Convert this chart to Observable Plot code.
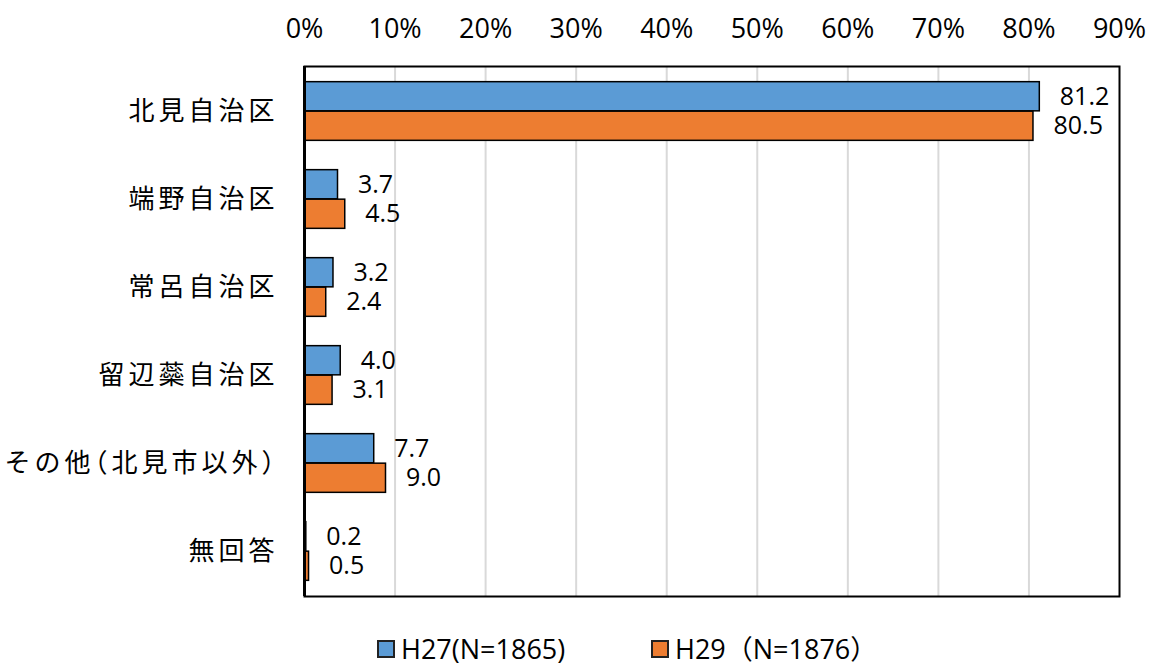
<!DOCTYPE html>
<html>
<head>
<meta charset="utf-8">
<script src="https://cdn.jsdelivr.net/npm/d3@7"></script>
<script src="https://cdn.jsdelivr.net/npm/@observablehq/plot@0.6"></script>
<style>
  body { margin: 0; background: #fff; font-family: 'Open Sans', 'Noto Sans CJK JP', sans-serif; }
  #chart svg [aria-label="y-axis tick label"] text { letter-spacing: 4px; font-feature-settings: "halt"; }
  #legend { position: relative; height: 46px; width: 1149px; }
  .item { position: absolute; top: 14px; display: flex; align-items: center; font-size: 27px; line-height: 30px; color: #000; font-family: 'Open Sans', 'Noto Sans CJK JP', sans-serif; }
  .sw { width: 14px; height: 14px; border: 2px solid #222; margin-right: 6px; }
</style>
</head>
<body>
<div id="chart"></div>
<div id="legend"></div>
<script>
const categories = ["北見自治区", "端野自治区", "常呂自治区", "留辺蘂自治区", "その他（北見市以外）", "無回答"];
const seriesNames = ["H27(N=1865)", "H29（N=1876）"];
const h27 = [81.2, 3.7, 3.2, 4.0, 7.7, 0.2];
const h29 = [80.5, 4.5, 2.4, 3.1, 9.0, 0.5];
const xTicks = [0, 10, 20, 30, 40, 50, 60, 70, 80, 90];
const colors = ["#5B9BD5", "#ED7D31"];

const d27 = categories.map((c, i) => ({category: c, value: h27[i]}));
const d29 = categories.map((c, i) => ({category: c, value: h29[i]}));

const band = (596 - 66) / categories.length;
const barH = 29.5;
const inset = (band - barH) / 2;
const off = barH / 2;

const font = "'Open Sans', 'Noto Sans CJK JP', sans-serif";

const chart = Plot.plot({
  width: 1149,
  height: 620,
  marginLeft: 304,
  marginRight: 30,
  marginTop: 66,
  marginBottom: 24,
  style: {fontFamily: font, fontSize: "26px", color: "#000", background: "#fff"},
  x: {domain: [0, 90]},
  y: {domain: categories, padding: 0},
  marks: [
    Plot.ruleX(xTicks.filter(t => t > 0 && t < 90), {stroke: "#d9d9d9", strokeWidth: 2}),
    Plot.barX(d27, {x: "value", y: "category", fill: colors[0], stroke: "#000", strokeWidth: 1.5, insetTop: inset, insetBottom: inset, dy: -off}),
    Plot.barX(d29, {x: "value", y: "category", fill: colors[1], stroke: "#000", strokeWidth: 1.5, insetTop: inset, insetBottom: inset, dy: off}),
    Plot.text(d27, {x: "value", y: "category", text: d => d.value.toFixed(1), dx: 20, dy: -off, textAnchor: "start", fontSize: 25, fill: "#000"}),
    Plot.text(d29, {x: "value", y: "category", text: d => d.value.toFixed(1), dx: 20, dy: off, textAnchor: "start", fontSize: 25, fill: "#000"}),
    Plot.frame({stroke: "#000", strokeWidth: 2}),
    Plot.ruleX([0], {stroke: "#000", strokeWidth: 3}),
    Plot.axisX({anchor: "top", ticks: xTicks, tickFormat: d => d + "%", tickSize: 0, tickPadding: 29, fontSize: 27, label: null}),
    Plot.axisY({anchor: "left", tickSize: 0, tickPadding: 26, fontSize: 26, label: null, fontFamily: "'Noto Sans CJK JP', sans-serif"})
  ]
});
document.getElementById("chart").appendChild(chart);

const legend = document.getElementById("legend");
const lefts = [377, 651];
seriesNames.forEach((name, i) => {
  const item = document.createElement("div");
  item.className = "item";
  item.style.left = lefts[i] + "px";
  const sw = document.createElement("div");
  sw.className = "sw";
  sw.style.background = colors[i];
  const t = document.createElement("span");
  t.textContent = name;
  item.appendChild(sw);
  item.appendChild(t);
  legend.appendChild(item);
});
</script>
</body>
</html>
